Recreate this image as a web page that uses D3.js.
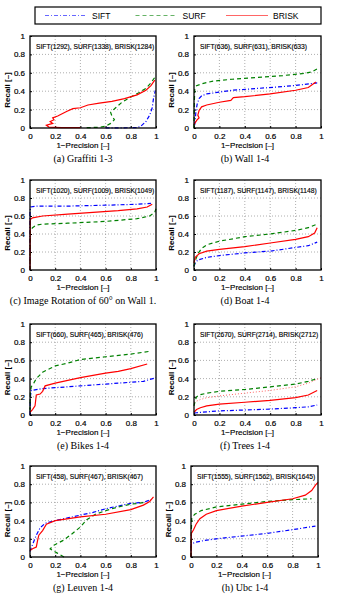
<!doctype html>
<html>
<head>
<meta charset="utf-8">
<script src="https://d3js.org/d3.v7.min.js"></script>
<style>
  body { margin: 0; background: #fff; }
  svg text { font-family: "Liberation Sans", Arial, sans-serif; }
</style>
</head>
<body>
<div id="chart"></div>
<script>

// recall vs 1-precision, one [x, y] list per detector and sequence
var graffitiSift  = [[0.60,0.002],[0.72,0.002],[0.85,0.004],[0.88,0.02],[0.92,0.07],[0.95,0.14],[0.97,0.22],[0.98,0.32],[0.995,0.41]];
var graffitiSurf  = [[0.45,0.003],[0.55,0.008],[0.60,0.02],[0.64,0.05],[0.67,0.09],[0.65,0.13],[0.64,0.17],[0.68,0.22],[0.73,0.28],[0.79,0.33],[0.86,0.38],[0.92,0.43],[0.96,0.49],[0.99,0.55]];
var graffitiBrisk = [[0.40,0.003],[0.25,0.005],[0.15,0.01],[0.13,0.03],[0.18,0.05],[0.16,0.07],[0.19,0.09],[0.18,0.11],[0.22,0.13],[0.29,0.18],[0.34,0.21],[0.40,0.22],[0.46,0.25],[0.55,0.27],[0.65,0.29],[0.75,0.32],[0.85,0.36],[0.92,0.41],[0.96,0.46],[0.99,0.52]];

var wallSift  = [[0.005,0.03],[0.01,0.08],[0.015,0.18],[0.025,0.26],[0.04,0.32],[0.06,0.35],[0.1,0.37],[0.2,0.39],[0.3,0.41],[0.5,0.43],[0.7,0.45],[0.85,0.47],[0.97,0.49]];
var wallSurf  = [[0,0],[0.003,0.3],[0.006,0.42],[0.02,0.46],[0.06,0.48],[0.15,0.51],[0.3,0.53],[0.5,0.55],[0.7,0.57],[0.85,0.59],[0.93,0.61],[0.98,0.65]];
var wallBrisk = [[0,0.04],[0.015,0.07],[0.025,0.09],[0.04,0.11],[0.03,0.14],[0.04,0.19],[0.06,0.23],[0.1,0.25],[0.2,0.28],[0.29,0.3],[0.31,0.33],[0.4,0.34],[0.6,0.37],[0.8,0.41],[0.9,0.44],[0.96,0.5]];

var rotationSift  = [[0,0],[0,0.64],[0.005,0.7],[0.05,0.71],[0.3,0.71],[0.6,0.72],[0.85,0.73],[0.96,0.74]];
var rotationSurf  = [[0,0],[0.003,0.44],[0.02,0.47],[0.05,0.5],[0.1,0.51],[0.3,0.52],[0.6,0.54],[0.85,0.57],[0.95,0.6],[0.99,0.64],[1.0,0.68]];
var rotationBrisk = [[0,0],[0.002,0.56],[0.02,0.58],[0.1,0.6],[0.3,0.62],[0.5,0.64],[0.7,0.66],[0.85,0.68],[0.93,0.7],[0.97,0.73]];

var boatSift  = [[0,0.04],[0.01,0.08],[0.03,0.11],[0.1,0.14],[0.2,0.16],[0.4,0.19],[0.6,0.21],[0.8,0.25],[0.9,0.27],[0.97,0.31]];
var boatSurf  = [[0,0.04],[0.01,0.1],[0.03,0.18],[0.06,0.24],[0.1,0.28],[0.2,0.32],[0.4,0.37],[0.6,0.4],[0.8,0.44],[0.9,0.47],[0.97,0.51]];
var boatBrisk = [[0,0.08],[0.01,0.14],[0.04,0.18],[0.1,0.21],[0.2,0.23],[0.4,0.26],[0.6,0.3],[0.8,0.34],[0.9,0.37],[0.95,0.41],[0.97,0.47]];

var bikesSift  = [[0,0],[0.003,0.2],[0.01,0.27],[0.1,0.29],[0.2,0.3],[0.4,0.32],[0.6,0.34],[0.8,0.36],[0.9,0.37],[1.0,0.41]];
var bikesSurf  = [[0,0.05],[0.003,0.25],[0.01,0.31],[0.03,0.35],[0.05,0.4],[0.1,0.47],[0.2,0.54],[0.3,0.57],[0.4,0.61],[0.6,0.64],[0.8,0.67],[0.95,0.7]];
var bikesBrisk = [[0,0.03],[0.02,0.06],[0.04,0.1],[0.05,0.22],[0.08,0.23],[0.1,0.26],[0.12,0.32],[0.2,0.35],[0.4,0.41],[0.6,0.46],[0.7,0.48],[0.8,0.51],[0.93,0.56]];

var treesSift  = [[0,0.02],[0.02,0.025],[0.1,0.035],[0.2,0.045],[0.4,0.055],[0.6,0.065],[0.8,0.08],[0.9,0.09],[0.97,0.11]];
var treesSurf  = [[0,0.1],[0.01,0.16],[0.02,0.2],[0.04,0.22],[0.1,0.24],[0.2,0.26],[0.4,0.28],[0.6,0.31],[0.8,0.34],[0.9,0.37],[0.97,0.4]];
var treesBrisk = [[0,0.03],[0.02,0.06],[0.05,0.08],[0.1,0.1],[0.2,0.12],[0.4,0.14],[0.6,0.16],[0.8,0.19],[0.9,0.22],[0.97,0.27]];
var treesBriskDotted = [[0,0.14],[0.05,0.17],[0.1,0.19],[0.2,0.21],[0.4,0.24],[0.6,0.27],[0.8,0.31],[0.9,0.35],[1.0,0.41]];

var leuvenSift  = [[0,0.06],[0.01,0.1],[0.03,0.17],[0.05,0.24],[0.08,0.32],[0.12,0.37],[0.2,0.4],[0.3,0.43],[0.4,0.46],[0.5,0.49],[0.6,0.53],[0.7,0.56],[0.8,0.59],[0.9,0.6],[0.96,0.63]];
var leuvenSurf  = [[0.27,0],[0.22,0.04],[0.16,0.09],[0.19,0.13],[0.26,0.18],[0.33,0.25],[0.4,0.33],[0.45,0.41],[0.52,0.47],[0.6,0.51],[0.7,0.55],[0.8,0.58],[0.92,0.6]];
var leuvenBrisk = [[0,0.07],[0.02,0.09],[0.05,0.11],[0.06,0.18],[0.07,0.24],[0.1,0.29],[0.13,0.36],[0.2,0.4],[0.4,0.44],[0.6,0.47],[0.8,0.52],[0.9,0.57],[0.95,0.61],[0.98,0.66]];

var ubcSift  = [[0,0],[0.002,0.14],[0.03,0.16],[0.1,0.18],[0.2,0.2],[0.4,0.23],[0.6,0.26],[0.8,0.3],[0.98,0.34]];
var ubcSurf  = [[0,0],[0.003,0.3],[0.006,0.43],[0.03,0.47],[0.08,0.51],[0.2,0.55],[0.4,0.58],[0.6,0.61],[0.8,0.63],[0.95,0.64]];
var ubcBrisk = [[0,0],[0.003,0.26],[0.02,0.3],[0.04,0.36],[0.07,0.42],[0.12,0.47],[0.2,0.51],[0.4,0.56],[0.6,0.6],[0.8,0.64],[0.9,0.68],[0.95,0.73],[0.98,0.79],[1.0,0.82]];

// keypoint counts shown in each panel
var siftCounts  = [1292, 636, 1020, 1187, 660, 2670, 458, 1555];
var surfCounts  = [1338, 631, 1009, 1147, 465, 2714, 467, 1562];
var briskCounts = [1284, 633, 1049, 1148, 476, 2712, 467, 1645];

var captions = ["(a) Graffiti 1-3", "(b) Wall 1-4", "(c) Image Rotation of 60\u00b0 on Wall 1.", "(d) Boat 1-4",
                "(e) Bikes 1-4", "(f) Trees 1-4", "(g) Leuven 1-4", "(h) Ubc 1-4"];
var seriesNames = ["SIFT", "SURF", "BRISK"];
var tickValues = [0, 0.2, 0.4, 0.6, 0.8, 1];

var curves = [
  [graffitiSift, graffitiSurf, graffitiBrisk],
  [wallSift, wallSurf, wallBrisk],
  [rotationSift, rotationSurf, rotationBrisk],
  [boatSift, boatSurf, boatBrisk],
  [bikesSift, bikesSurf, bikesBrisk],
  [treesSift, treesSurf, treesBrisk],
  [leuvenSift, leuvenSurf, leuvenBrisk],
  [ubcSift, ubcSurf, ubcBrisk]
];

// line styles per detector
var styles = [
  {color: "#0000ff", dash: "4,2,1,2"},
  {color: "#008000", dash: "4,3"},
  {color: "#ff0000", dash: null}
];

// panel boxes in pixels
var boxes = [
  {x: 30,  y: 36,  w: 126, h: 92},
  {x: 194, y: 36,  w: 127, h: 92},
  {x: 30,  y: 180, w: 126, h: 90},
  {x: 194, y: 180, w: 127, h: 90},
  {x: 30,  y: 324, w: 126, h: 91},
  {x: 194, y: 324, w: 127, h: 91},
  {x: 30,  y: 466, w: 126, h: 91},
  {x: 191, y: 466, w: 127, h: 91}
];

var svg = d3.select("#chart")
  .append("svg")
    .attr("width", 337)
    .attr("height", 597);

var fmt = function(d) { return String(+d.toFixed(1)); };

// legend on top
var legend = svg.append("g");
legend.append("rect")
    .attr("x", 35).attr("y", 7).attr("width", 286).attr("height", 17)
    .attr("fill", "#fff").attr("stroke", "#000").attr("stroke-width", 1.2);
var legendX = d3.scalePoint().domain(seriesNames).range([45, 226]);
seriesNames.forEach(function(name, i) {
  var lx = legendX(name);
  legend.append("line")
      .attr("x1", lx).attr("x2", lx + 42).attr("y1", 15.5).attr("y2", 15.5)
      .attr("stroke", styles[i].color).attr("stroke-opacity", 0.6)
      .attr("stroke-width", 1.2)
      .attr("stroke-dasharray", styles[i].dash);
  legend.append("text")
      .attr("x", lx + 47).attr("y", 18.5)
      .style("font-size", "8.5px")
      .text(name);
});

boxes.forEach(function(b, p) {
  var g = svg.append("g").attr("transform", "translate(" + b.x + "," + b.y + ")");

  var x = d3.scaleLinear().domain([0, 1]).range([0, b.w]);
  var y = d3.scaleLinear().domain([0, 1]).range([b.h, 0]);

  // dotted grid
  g.selectAll(".gx").data(tickValues.slice(1, 5)).enter().append("line")
      .attr("x1", function(d) { return x(d); }).attr("x2", function(d) { return x(d); })
      .attr("y1", 0).attr("y2", b.h)
      .attr("stroke", "#999").attr("stroke-width", 0.8).attr("stroke-dasharray", "1,2");
  g.selectAll(".gy").data(tickValues.slice(1, 5)).enter().append("line")
      .attr("y1", function(d) { return y(d); }).attr("y2", function(d) { return y(d); })
      .attr("x1", 0).attr("x2", b.w)
      .attr("stroke", "#999").attr("stroke-width", 0.8).attr("stroke-dasharray", "1,2");

  // axes
  var ax = g.append("g")
      .attr("transform", "translate(0," + b.h + ")")
      .call(d3.axisBottom(x).tickValues(tickValues).tickFormat(fmt).tickSizeInner(-2).tickSizeOuter(0).tickPadding(5));
  var ay = g.append("g")
      .call(d3.axisLeft(y).tickValues(tickValues).tickFormat(fmt).tickSizeInner(-2).tickSizeOuter(0).tickPadding(5));
  [ax, ay].forEach(function(a) {
    a.select(".domain").remove();
    a.selectAll("text")
        .style("font-size", "8px")
        .style("font-family", "'Liberation Sans', Arial, sans-serif")
        .attr("fill", "#000").attr("stroke", "#000").attr("stroke-width", 0.2);
    a.selectAll("line").attr("stroke", "#000");
  });

  // curves
  curves[p].forEach(function(data, i) {
    g.append("path")
        .datum(data)
        .attr("fill", "none")
        .attr("stroke", styles[i].color)
        .attr("stroke-width", 1.2)
        .attr("stroke-dasharray", styles[i].dash)
        .attr("d", d3.line()
          .x(function(d) { return x(d[0]); })
          .y(function(d) { return y(d[1]); }));
  });
  if (p === 5) {
    g.append("path")
        .datum(treesBriskDotted)
        .attr("fill", "none")
        .attr("stroke", "#ff6666")
        .attr("stroke-width", 1)
        .attr("stroke-dasharray", "1,2")
        .attr("d", d3.line()
          .x(function(d) { return x(d[0]); })
          .y(function(d) { return y(d[1]); }));
  }

  // frame
  g.append("rect")
      .attr("width", b.w).attr("height", b.h)
      .attr("fill", "none").attr("stroke", "#000").attr("stroke-width", 1.3);

  // keypoint counts
  g.append("text")
      .attr("x", 6).attr("y", 13)
      .style("font-size", "6.7px")
      .attr("fill", "#000").attr("stroke", "#000").attr("stroke-width", 0.15)
      .text("SIFT(" + siftCounts[p] + "), SURF(" + surfCounts[p] + "), BRISK(" + briskCounts[p] + ")");

  // axis titles
  g.append("text")
      .attr("x", b.w / 2 - 10).attr("y", b.h + 20)
      .attr("text-anchor", "middle")
      .style("font-size", "8px")
      .attr("stroke", "#000").attr("stroke-width", 0.15)
      .text("1\u2212Precision [\u2013]");
  g.append("text")
      .attr("transform", "translate(" + (-20) + "," + (b.h / 2 + 8) + ") rotate(-90)")
      .attr("text-anchor", "middle")
      .style("font-size", "8px")
      .style("font-weight", "bold")
      .text("Recall [\u2013]");

  // caption
  svg.append("text")
      .attr("x", p % 2 === 0 ? 83 : 245)
      .attr("y", b.y + b.h + 34)
      .attr("text-anchor", "middle")
      .style("font-family", "'Liberation Serif', 'Times New Roman', serif")
      .style("font-size", "10px")
      .text(captions[p]);
});

</script>
</body>
</html>
